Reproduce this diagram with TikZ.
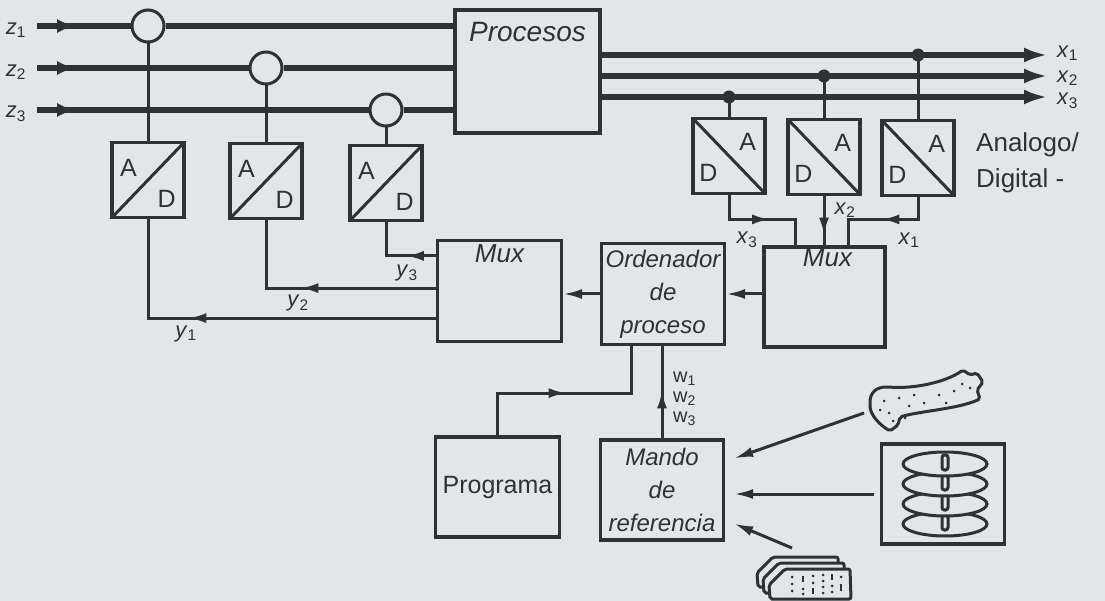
\documentclass[tikz,border=0pt]{standalone}
\usepackage{fontspec}
\setmainfont{Liberation Sans}
\usepackage{xcolor}
\usepackage{tikz}
\usetikzlibrary{positioning,arrows.meta,calc,decorations.markings}
\definecolor{ink}{RGB}{46,50,52}
\definecolor{paper}{RGB}{227,230,233}
\newcommand{\sig}[2]{\textit{#1}\textsubscript{#2}}
\tikzset{
  blk/.style ={draw=ink,line width=3.2pt,minimum width=124pt,minimum height=101pt,align=center,inner sep=2pt},
  hand/.style={font=\fontsize{24}{33}\selectfont\itshape,text=ink},
  conv/.style={draw=ink,line width=3.2pt,minimum width=72pt,minimum height=75pt,inner sep=0pt},
  adc/.style ={conv,path picture={\draw[ink,line width=3pt] (path picture bounding box.south west)--(path picture bounding box.north east);}},
  dac/.style ={conv,path picture={\draw[ink,line width=3pt] (path picture bounding box.north west)--(path picture bounding box.south east);}},
  tap/.style ={circle,draw=ink,line width=3pt,minimum size=32pt,inner sep=0pt},
  lt/.style  ={font=\fontsize{25}{25}\selectfont,text=ink,inner sep=0pt},
  sg/.style  ={font=\fontsize{22}{22}\selectfont,text=ink,inner sep=1pt},
  ln/.style  ={color=ink,line width=3pt},
  bus/.style ={color=ink,line width=5.5pt},
  ar/.style  ={ln,-{Latex[length=19pt,width=10pt]}},
  midar/.style={ln,postaction={decorate},decoration={markings,mark=at position #1 with {\arrow{Latex[length=18pt,width=10pt]}}}},
  inar/.style={postaction={decorate},decoration={markings,mark=at position 38pt with {\arrow{Latex[length=18pt,width=14pt]}}}},
}

\begin{document}
\begin{tikzpicture}[x=1pt,y=-1pt]
\useasboundingbox[fill=paper] (0,0) rectangle (1105,601);

% process with measured inputs
\node[blk,minimum width=145pt,minimum height=123pt] (proc) at (527.5,71.5) {};
\node[hand,font=\fontsize{28}{28}\selectfont\itshape,anchor=north] at ($(proc.north)+(0,10)$) {Procesos};
\node[sg] (z1) at (16,30) {\sig{z}{1}};
\node[sg] (z2) at (16,72) {\sig{z}{2}};
\node[sg] (z3) at (16,114) {\sig{z}{3}};
\node[tap] (c1) at (148,26) {};
\node[tap] (c2) at (266,68) {};
\node[tap] (c3) at (386,110) {};
\draw[bus,inar] ($(z1.east |- c1)+(10,0)$) -- (c1);
\draw[bus,inar] ($(z2.east |- c2)+(10,0)$) -- (c2);
\draw[bus,inar] ($(z3.east |- c3)+(10,0)$) -- (c3);
\draw[bus] (c1) -- (c1 -| proc.west);
\draw[bus] (c2) -- (c2 -| proc.west);
\draw[bus] (c3) -- (c3 -| proc.west);

% A/D converters
\node[adc] (ad1) at (148,180) {};
\node[adc] (ad2) at (266,181) {};
\node[adc] (ad3) at (386,183) {};
\node[lt] at ($(ad1.north west)+(18,27)$) {A};
\node[lt] at ($(ad1.south east)+(-19,-20)$) {D};
\node[lt] at ($(ad2.north west)+(18,27)$) {A};
\node[lt] at ($(ad2.south east)+(-19,-20)$) {D};
\node[lt] at ($(ad3.north west)+(18,27)$) {A};
\node[lt] at ($(ad3.south east)+(-19,-20)$) {D};
\draw[ln] (c1) -- (ad1);
\draw[ln] (c2) -- (ad2);
\draw[ln] (c3) -- (ad3);

% actuating outputs and D/A converters
\coordinate (e1) at (1048,55);
\coordinate (e2) at (1048,76);
\coordinate (e3) at (1048,97);
\draw[bus,-{Latex[length=24pt,width=15pt]}] (proc.east |- e1) -- (e1);
\draw[bus,-{Latex[length=24pt,width=15pt]}] (proc.east |- e2) -- (e2);
\draw[bus,-{Latex[length=24pt,width=15pt]}] (proc.east |- e3) -- (e3);
\node[sg,anchor=west] at ($(e1)+(8,-2)$) {\sig{x}{1}};
\node[sg,anchor=west] at ($(e2)+(8,2)$) {\sig{x}{2}};
\node[sg,anchor=west] at ($(e3)+(8,4)$) {\sig{x}{3}};
\node[dac] (da1) at (729,156) {};
\node[dac] (da2) at (824,157) {};
\node[dac] (da3) at (918,158) {};
\node[lt] at ($(da1.south west)+(17,-22)$) {D};
\node[lt] at ($(da1.north east)+(-19,25)$) {A};
\node[lt] at ($(da2.south west)+(17,-22)$) {D};
\node[lt] at ($(da2.north east)+(-19,25)$) {A};
\node[lt] at ($(da3.south west)+(17,-22)$) {D};
\node[lt] at ($(da3.north east)+(-19,25)$) {A};
\draw[ln] (da1.north) -- (da1.north |- e3);
\draw[ln] (da2.north) -- (da2.north |- e2);
\draw[ln] (da3.north) -- (da3.north |- e1);
\fill[ink] (da1.north |- e3) circle (6.5pt);
\fill[ink] (da2.north |- e2) circle (6.5pt);
\fill[ink] (da3.north |- e1) circle (6.5pt);
\node[lt,font=\fontsize{26}{36}\selectfont,anchor=west,align=left] at (976,163) {Analogo/\\Digital -};

% multiplexers and process computer
\node[blk] (muxa) at (499.5,291) {};
\node[hand,font=\fontsize{26}{26}\selectfont\itshape,anchor=north] at ($(muxa.north)+(0,2)$) {Mux};
\node[blk,hand,minimum width=123pt] (ord) at (663,294) {Ordenador\\de\\proceso};
\node[blk,minimum width=121pt,minimum height=100pt] (muxb) at (824.5,297) {};
\node[hand,font=\fontsize{26}{26}\selectfont\itshape,anchor=north] at ($(muxb.north)+(3,0)$) {Mux};
\draw[ar] (muxb.west |- ord.east) -- (ord.east);
\draw[ar] (ord.west) -- (ord.west -| muxa.east);

\coordinate (ya1) at ($(muxa.south west)+(0,-25)$);
\coordinate (ya2) at ($(muxa.south west)+(0,-55)$);
\coordinate (ya3) at ($(muxa.north west)+(0,17)$);
\draw[midar=0.64] (ya1) -| (ad1.south);
\draw[midar=0.57] (ya2) -| (ad2.south);
\draw[midar=0.36] (ya3) -| (ad3.south);
\node[sg] at (186,334) {\sig{y}{1}};
\node[sg] at (298,303) {\sig{y}{2}};
\node[sg] at (407,273) {\sig{y}{3}};

\coordinate (jb3) at ($(muxb.north west)+(33,0)$);
\coordinate (jb1) at ($(muxb.north west)+(86,0)$);
\draw[midar=0.56] (da1.south) |- ($(jb3)+(0,-26)$) -- (jb3);
\draw[midar=0.8] (da2.south) -- (da2.south |- muxb.north);
\draw[midar=0.5] (da3.south) |- ($(jb1)+(0,-26)$) -- (jb1);
\node[sg] at (747,240) {\sig{x}{3}};
\node[sg] at (845,210) {\sig{x}{2}};
\node[sg] at (909,240) {\sig{x}{1}};

% program and reference input
\node[blk,lt,minimum height=100pt] (prog) at (497.5,487) {Programa};
\node[blk,hand,minimum width=123pt,minimum height=100pt] (mando) at (662,490) {Mando\\de\\referencia};
\coordinate (pin) at ($(ord.south)+(-32,0)$);
\draw[midar=0.5] (prog.north) |- ($(pin)+(0,47)$) -- (pin);
\draw[midar=0.52] (mando.north) -- (mando.north |- ord.south);
\node[sg,font=\fontsize{20}{20}\selectfont,anchor=west,align=left] at (672,399) {w\textsubscript{1}\\w\textsubscript{2}\\w\textsubscript{3}};

% data carriers: tape, disk pack, punched cards
\draw[ln,fill=paper,rounded corners=2pt] (870,404) .. controls (870,393) and (876,387) .. (888,387)
  .. controls (915,389) and (946,382) .. (963,370) -- (970,375) -- (977,373) -- (983,382)
  -- (977,390) -- (980,399) .. controls (958,409) and (920,411) .. (900,417)
  -- (898,425) -- (890,431) .. controls (880,425) and (870,415) .. (870,404) -- cycle;
\foreach \p in {(884,401),(889,413),(899,398),(909,406),(914,395),(924,403),(931,411),(939,395),
                (946,403),(954,391),(962,384),(920,413),(905,418),(970,388),(893,421),(880,410)}
  \fill[ink] \p circle (1.5pt);
\coordinate (tape) at (864,413);

\node[blk,minimum width=123pt,minimum height=100pt] (disks) at (943,494) {};
\foreach \k in {3,2,1,0} {
  \draw[ln,fill=paper] (945,464+\k*20) ellipse (42 and 12);
  \draw[ln,fill=paper,rounded corners=2.5pt] (942,455+\k*20) rectangle (948,470+\k*20);
}

\foreach \d in {12,6,0}
  \draw[ln,fill=paper,rounded corners=2pt] (770-\d,599-\d) -- (769-\d,585-\d) -- (785-\d,569-\d)
    -- (850-\d,569-\d) -- (851-\d,599-\d) -- cycle;
\foreach \p in {(792,577),(792,584),(792,591),(803,589),(803,594),(813,576),(813,583),
                (823,575),(823,581),(823,587),(823,593),(832,586),(832,592),(841,577)}
  \fill[ink] \p circle (1.5pt);
\draw[ink,line width=2.6pt] (803,576) -- (803,582) (813,588) -- (813,594) (832,574) -- (832,580) (841,584) -- (841,591);
\coordinate (cards) at (792,548);

\coordinate (m1) at ($(mando.north east)+(9,20)$);
\coordinate (m3) at ($(mando.south east)+(9,-18)$);
\draw[ar] (tape) -- (m1);
\draw[ar] ($(disks.west)+(-6,0)$) -- ($(disks.west -| mando.east)+(9,0)$);
\draw[ar] (cards) -- (m3);
\end{tikzpicture}
\end{document}
